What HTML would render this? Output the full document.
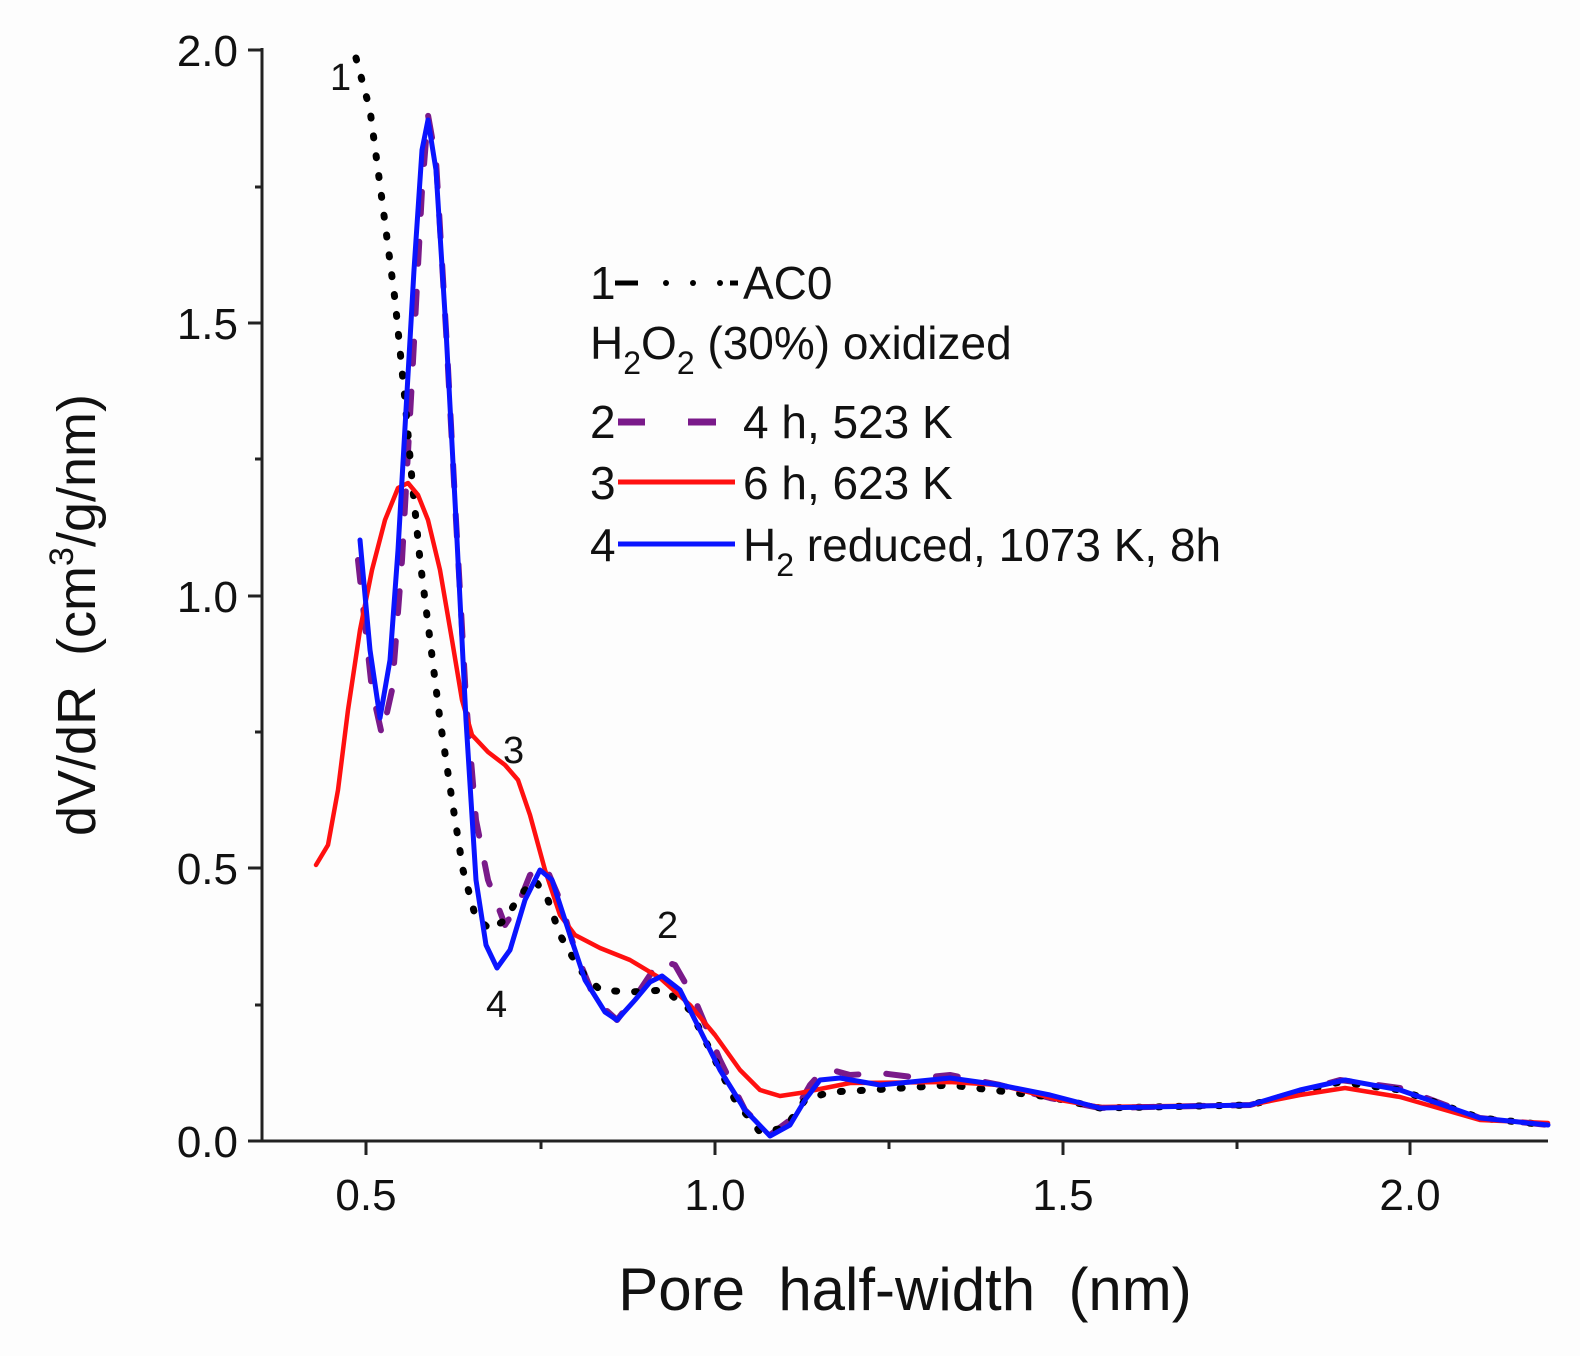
<!DOCTYPE html>
<html><head><meta charset="utf-8"><style>
html,body{margin:0;padding:0;background:#fff;}
svg{display:block;}
text{font-family:"Liberation Sans",Arial,sans-serif;fill:#111;}
</style></head><body>
<svg width="1580" height="1356" viewBox="0 0 1580 1356" xmlns="http://www.w3.org/2000/svg">
<rect width="1580" height="1356" fill="#fdfdfd"/>
<g stroke="#222" stroke-width="3" fill="none">
<line x1="262" y1="48" x2="262" y2="1142"/>
<line x1="262" y1="1141" x2="1548" y2="1141"/>
<line x1="248" y1="50" x2="262" y2="50"/>
<line x1="248" y1="323" x2="262" y2="323"/>
<line x1="248" y1="596" x2="262" y2="596"/>
<line x1="248" y1="868" x2="262" y2="868"/>
<line x1="248" y1="1141" x2="262" y2="1141"/>
<line x1="255" y1="187" x2="262" y2="187"/>
<line x1="255" y1="459" x2="262" y2="459"/>
<line x1="255" y1="732" x2="262" y2="732"/>
<line x1="255" y1="1005" x2="262" y2="1005"/>
<line x1="366" y1="1141" x2="366" y2="1155"/>
<line x1="715" y1="1141" x2="715" y2="1155"/>
<line x1="1063" y1="1141" x2="1063" y2="1155"/>
<line x1="1410" y1="1141" x2="1410" y2="1155"/>
<line x1="541" y1="1141" x2="541" y2="1149"/>
<line x1="889" y1="1141" x2="889" y2="1149"/>
<line x1="1237" y1="1141" x2="1237" y2="1149"/>
</g>
<g font-size="44" text-anchor="end">
<text x="238" y="66">2.0</text>
<text x="238" y="339">1.5</text>
<text x="238" y="612">1.0</text>
<text x="238" y="884">0.5</text>
<text x="238" y="1157">0.0</text>
</g>
<g font-size="44" text-anchor="middle">
<text x="366" y="1210">0.5</text>
<text x="715" y="1210">1.0</text>
<text x="1063" y="1210">1.5</text>
<text x="1410" y="1210">2.0</text>
</g>
<text x="905" y="1310" font-size="60" text-anchor="middle" xml:space="preserve">Pore  half-width  (nm)</text>
<text transform="translate(95,615) rotate(-90)" font-size="54" text-anchor="middle" xml:space="preserve">dV/dR  (cm<tspan dy="-22" font-size="34">3</tspan><tspan dy="22">/g/nm)</tspan></text>

<g fill="none" stroke-linejoin="round" stroke-linecap="round">
<polyline stroke="#7a1a8a" stroke-width="6" stroke-dasharray="22 28" points="358,560 372,690 382,735 392,690 402,560 412,380 422,190 428,115 436,160 446,330 456,520 466,700 476,820 488,880 505,925 518,905 530,875 545,865 560,900 575,950 595,1000 617,1020 640,990 660,960 675,965 695,1000 720,1060 745,1110 770,1135 790,1120 810,1085 825,1068 850,1075 880,1073 920,1078 950,1075 1000,1085 1050,1098 1100,1108 1250,1105 1340,1080 1400,1088 1480,1118 1548,1125"/>
<polyline stroke="#000" stroke-width="7" stroke-dasharray="2 18" points="356,58 370,110 382,200 395,300 405,400 412,480 420,560 430,640 440,720 452,800 463,870 475,915 490,930 505,920 520,895 535,880 548,900 560,935 580,970 600,990 630,992 665,990 690,1010 710,1050 735,1100 760,1132 785,1128 805,1100 830,1092 870,1090 950,1085 1050,1097 1100,1108 1250,1105 1340,1082 1400,1090 1480,1118 1548,1125"/>
<polyline stroke="#ff1010" stroke-width="4.5" points="316,865 328,845 338,790 348,710 360,630 372,570 385,520 398,488 408,483 418,495 428,520 440,570 452,640 462,700 472,735 488,752 505,765 518,780 530,815 545,870 560,915 575,935 600,948 630,960 660,978 690,1005 715,1035 740,1070 760,1090 780,1096 800,1093 850,1083 950,1082 1000,1085 1060,1100 1100,1107 1250,1105 1300,1095 1345,1088 1400,1097 1480,1120 1548,1123"/>
<polyline stroke="#0a14ff" stroke-width="5" points="360,540 370,650 380,718 390,660 398,550 406,410 414,270 422,150 428,120 436,170 446,330 456,520 466,720 476,880 486,945 497,968 510,950 525,900 540,870 552,880 565,920 585,980 605,1012 617,1020 635,1000 650,982 662,976 680,990 700,1030 720,1070 745,1110 770,1136 790,1125 805,1100 820,1080 840,1078 880,1085 950,1078 1000,1085 1050,1095 1100,1108 1250,1105 1300,1090 1345,1080 1400,1090 1480,1118 1548,1125"/>
</g>

<g font-size="38">
<text x="330" y="90">1</text>
<text x="503" y="763">3</text>
<text x="657" y="938">2</text>
<text x="486" y="1017">4</text>
</g>

<g font-size="46">
<text x="590" y="299">1</text>
<line x1="615" y1="283" x2="638" y2="283" stroke="#000" stroke-width="5"/>
<g fill="#000"><circle cx="666" cy="283" r="3"/><circle cx="693" cy="283" r="3"/><circle cx="720" cy="283" r="3"/></g>
<line x1="730" y1="283" x2="738" y2="283" stroke="#000" stroke-width="5"/>
<text x="743" y="299">AC0</text>
<text x="590" y="359">H<tspan font-size="32" dy="15">2</tspan><tspan dy="-15">O</tspan><tspan font-size="32" dy="15">2</tspan><tspan dy="-15"> (30%) oxidized</tspan></text>
<text x="590" y="438">2</text>
<line x1="618" y1="422" x2="645" y2="422" stroke="#7a1a8a" stroke-width="7"/>
<line x1="688" y1="422" x2="716" y2="422" stroke="#7a1a8a" stroke-width="7"/>
<text x="743" y="438">4 h, 523 K</text>
<text x="590" y="499">3</text>
<line x1="618" y1="482" x2="735" y2="482" stroke="#ff1010" stroke-width="5"/>
<text x="743" y="499">6 h, 623 K</text>
<text x="590" y="561">4</text>
<line x1="618" y1="544" x2="735" y2="544" stroke="#0a14ff" stroke-width="5"/>
<text x="743" y="561">H<tspan font-size="32" dy="15">2</tspan><tspan dy="-15"> reduced, 1073 K, 8h</tspan></text>
</g>
</svg>
</body></html>
